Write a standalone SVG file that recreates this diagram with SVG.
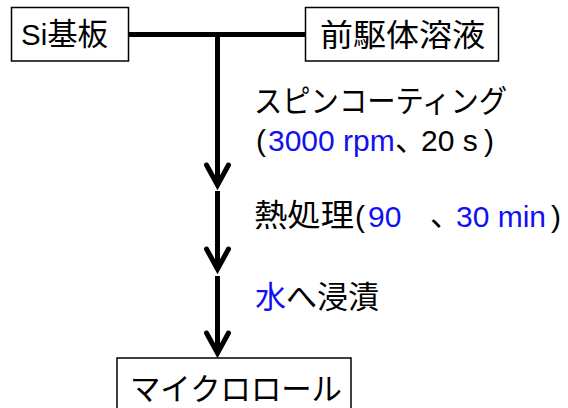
<svg xmlns="http://www.w3.org/2000/svg" width="568" height="408" viewBox="0 0 568 408">
<defs>
<style>
.box{fill:#fff;stroke:#000;stroke-width:1.5}
.jp{font-family:"Noto Sans CJK JP","Noto Sans CJK SC",sans-serif;font-size:31px;fill:#000}
.la{font-family:"Liberation Sans",Arial,"Noto Sans CJK JP",sans-serif;font-size:30px}
.blue{fill:#1010f0}
.blk{fill:#000}
.half{font-feature-settings:"halt" 1}
.conn{stroke:#000;stroke-width:5;fill:none}
</style>
<marker id="ah" markerUnits="userSpaceOnUse" orient="auto" markerWidth="40" markerHeight="40" viewBox="-30 -20 40 40" refX="0" refY="0" overflow="visible">
<path d="M-20,-11 L0,0 L-20,11" fill="none" stroke="#000" stroke-width="5" stroke-linecap="round" stroke-linejoin="miter"/>
</marker>
</defs>
<rect width="568" height="408" fill="#fff"/>
<g id="connectors">
<line class="conn" x1="129" y1="34.5" x2="305" y2="34.5"/>
<line class="conn" x1="217.5" y1="34.5" x2="217.5" y2="185" marker-end="url(#ah)"/>
<line class="conn" x1="217.5" y1="191" x2="217.5" y2="269" marker-end="url(#ah)"/>
<line class="conn" x1="217.5" y1="276" x2="217.5" y2="353" marker-end="url(#ah)"/>
</g>
<g id="node-si">
<rect class="box" x="11.5" y="7.5" width="117" height="53.5"/>
<text class="jp" x="21" y="45" textLength="87" lengthAdjust="spacingAndGlyphs"><tspan font-family="Liberation Sans, Arial, sans-serif" font-size="30">Si</tspan>基板</text>
</g>
<g id="node-precursor">
<rect class="box" x="305.5" y="7.5" width="193" height="53.5"/>
<text class="jp" x="320" y="46" textLength="165" lengthAdjust="spacingAndGlyphs">前駆体溶液</text>
</g>
<g id="label-spin">
<text class="jp" x="254" y="112" textLength="253" lengthAdjust="spacingAndGlyphs">スピンコーティング</text>
<text class="jp" y="151"><tspan class="la blk" x="256">(</tspan><tspan class="la blue" x="268">3000 rpm</tspan><tspan class="half" x="395">、</tspan><tspan class="la blk" x="421" font-size="28">20 s</tspan><tspan class="la blk" x="484">)</tspan></text>
</g>
<g id="label-heat">
<text class="jp" y="226"><tspan x="254" textLength="100" lengthAdjust="spacingAndGlyphs">熱処理</tspan><tspan class="la blk" x="355" y="227">(</tspan><tspan class="la blue" x="368">90</tspan><tspan class="half" x="430" y="226">、</tspan><tspan class="la blue" x="456" y="227">30 min</tspan><tspan class="la blk" x="551">)</tspan></text>
</g>
<g id="label-water">
<text class="jp" x="255" y="308"><tspan class="blue">水</tspan>へ浸漬</text>
</g>
<g id="node-microroll">
<rect class="box" x="117" y="358" width="234" height="60"/>
<text class="jp" x="130" y="400" textLength="212" lengthAdjust="spacingAndGlyphs">マイクロロール</text>
</g>
</svg>
